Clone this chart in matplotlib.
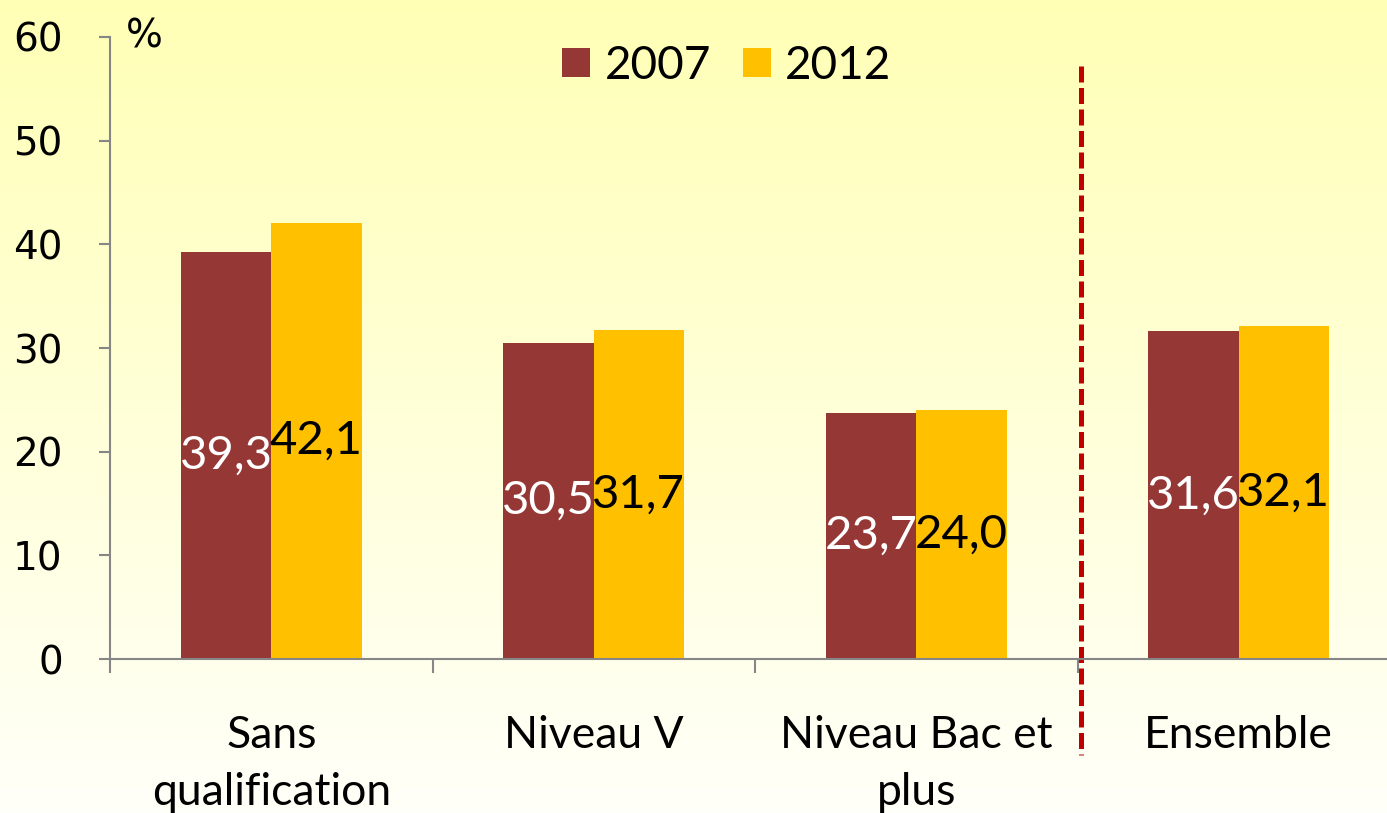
import matplotlib
matplotlib.use("Agg")
import matplotlib.pyplot as plt
import numpy as np

categories = ["Sans\nqualification", "Niveau V", "Niveau Bac et\nplus", "Ensemble"]
years = ["2007", "2012"]
values_2007 = [39.3, 30.5, 23.7, 31.6]
values_2012 = [42.1, 31.7, 24.0, 32.1]
y_ticks = [0, 10, 20, 30, 40, 50, 60]

COLOR_2007 = "#953735"
COLOR_2012 = "#FFC000"
AXIS_GRAY = "#868686"
LABEL_FONT = ["Lato", "DejaVu Sans"]

W, H = 1387, 813
fig = plt.figure(figsize=(W / 100, H / 100), dpi=100)

# yellow-to-white gradient background
bg = fig.add_axes([0, 0, 1, 1], zorder=-10)
grad = np.linspace(0, 1, 256).reshape(-1, 1)
top = np.array([255, 255, 182]) / 255
bottom = np.array([255, 255, 249]) / 255
img = top + (bottom - top) * grad[..., None]
bg.imshow(img, aspect="auto", extent=[0, 1, 0, 1], origin="upper")
bg.set_axis_off()

# axes: left spine at x=110px, y=0 at 659px, y=60 at 37px, 322.5px per category
left, right = 110, 110 + 4 * 322.5
ax = fig.add_axes([left / W, (H - 659) / H, (right - left) / W, (659 - 37) / H])
ax.set_facecolor("none")

x = np.arange(len(categories))
width = 0.28
bars_a = ax.bar(x - width / 2, values_2007, width, color=COLOR_2007, label=years[0])
bars_b = ax.bar(x + width / 2, values_2012, width, color=COLOR_2012, label=years[1])

for bar, v in zip(bars_a, values_2007):
    ax.text(bar.get_x() + bar.get_width() / 2, v / 2, f"{v:.1f}".replace(".", ","),
            ha="center", va="center", color="white", fontsize=34, family=LABEL_FONT)
for bar, v in zip(bars_b, values_2012):
    ax.text(bar.get_x() + bar.get_width() / 2, v / 2, f"{v:.1f}".replace(".", ","),
            ha="center", va="center", color="black", fontsize=34, family=LABEL_FONT)

ax.set_xlim(-0.5, 3.5)
ax.set_ylim(0, 60)
ax.set_yticks(y_ticks)
ax.set_yticklabels([str(t) for t in y_ticks], fontsize=28, family="DejaVu Sans")
ax.tick_params(axis="y", direction="out", length=8, width=1.5, color=AXIS_GRAY, pad=26)

ax.set_xticks(x)
ax.set_xticklabels(categories, fontsize=32, family=LABEL_FONT, linespacing=1.5)
ax.tick_params(axis="x", length=0, pad=40)
ax.set_xticks(np.arange(-0.5, 3.6, 1.0), minor=True)
ax.tick_params(axis="x", which="minor", direction="out", length=10, width=1.5, color=AXIS_GRAY)

for side in ["top", "right"]:
    ax.spines[side].set_visible(False)
for side in ["left", "bottom"]:
    ax.spines[side].set_color(AXIS_GRAY)
    ax.spines[side].set_linewidth(1.5)

ax.text(-0.45, 60, "%", fontsize=28, family="DejaVu Sans", ha="left", va="center")

# red dashed separator before "Ensemble"
ax.plot([2.51, 2.51], [57.2, -9.3], color="#C00000", linewidth=3.6,
        linestyle=(0, (3.2, 1.1)), clip_on=False)

ax.legend(loc="center", bbox_to_anchor=(727 / W, (H - 66) / H), bbox_transform=fig.transFigure,
          ncol=2, frameon=False, handlelength=0.6, handleheight=0.6, handletextpad=0.32,
          columnspacing=0.7, prop={"family": LABEL_FONT, "size": 33})

fig.savefig("out.png", dpi=100)
